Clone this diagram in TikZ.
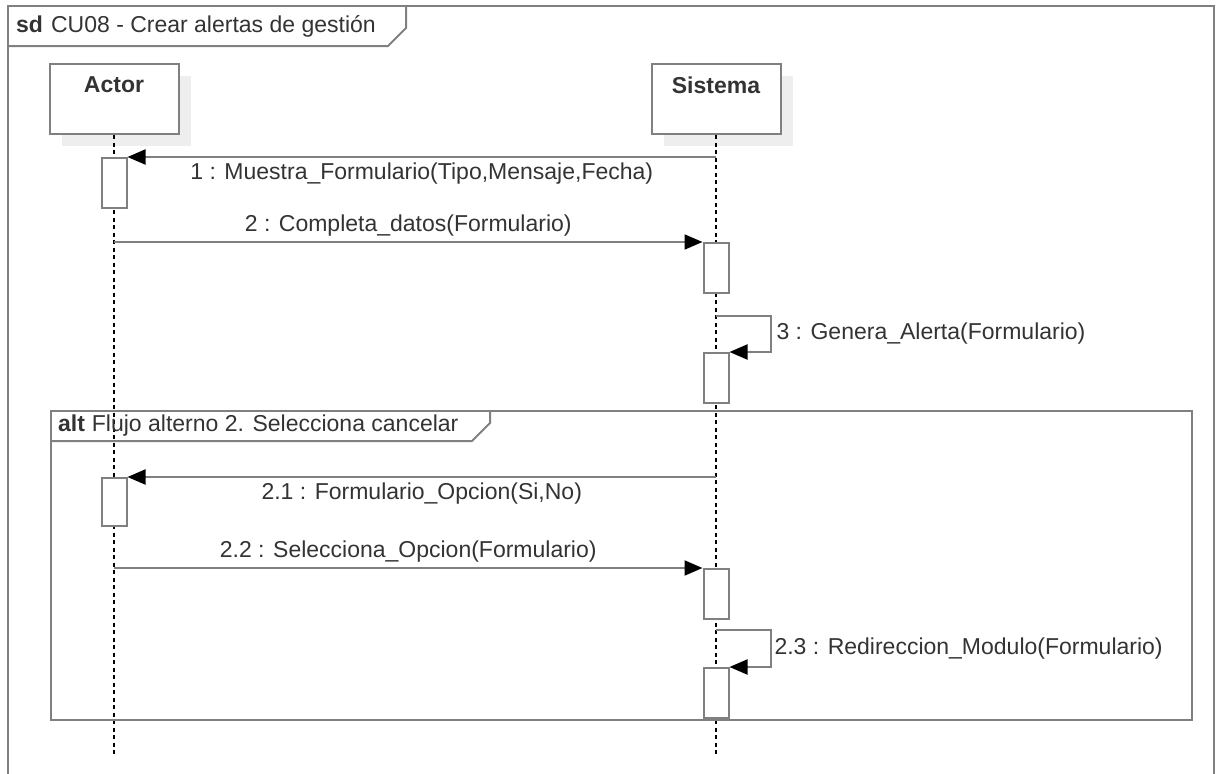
\documentclass[tikz,border=0pt]{standalone}
\usepackage{fontspec}
\setmainfont{Liberation Sans}
\usetikzlibrary{arrows.meta,shadows}

\definecolor{linegray}{HTML}{808080}
\definecolor{txtgray}{HTML}{333333}
\definecolor{shadowgray}{HTML}{EEEEEE}

\tikzset{
  framed/.style={draw=linegray, line width=2pt},
  lifebox/.style={draw=linegray, line width=2pt, fill=white, minimum width=129, minimum height=70, inner sep=0pt,
    general shadow={fill=shadowgray, shadow xshift=12pt, shadow yshift=-12pt}},
  actbar/.style={draw=linegray, line width=2pt, fill=white, minimum width=25, inner sep=0pt},
  lifeline/.style={black, line width=1.3pt, dash pattern=on 4pt off 3.5pt},
  msg/.style={draw=linegray, line width=2pt, -{Triangle[length=18pt,width=15pt,fill=black,color=black]}},
  msgtxt/.style={text=txtgray, inner sep=3pt}
}

\begin{document}
\begin{tikzpicture}[x=1pt,y=1pt,yscale=-1, every node/.style={font=\fontsize{23}{27}\selectfont}]
\useasboundingbox (0,0) rectangle (1216,774);

% outer frame
\draw[framed] (8,774) -- (8,6) -- (1214,6) -- (1214,774);
\draw[framed] (8,46) -- (388,46) -- (406,28) -- (406,6);
\node[anchor=west, text=txtgray, inner sep=0pt] (title) at (16,26) {\textbf{sd}\hspace{0.35em}CU08 - Crear alertas de gestión};

% lifelines
\node[lifebox] (actor) at (114,99) {};
\node[lifebox] (sys) at (716,99) {};
\node[text=txtgray, font=\fontsize{23}{27}\selectfont\bfseries, inner sep=0pt] (actortxt) at (114,85) {Actor};
\node[text=txtgray, font=\fontsize{23}{27}\selectfont\bfseries, inner sep=0pt] (systxt) at (716,85) {Sistema};
\coordinate (lineend) at (0,757);
\draw[lifeline] (actor.south) -- (actor.south |- lineend);
\draw[lifeline] (sys.south) -- (sys.south |- lineend);

% alt fragment
\draw[framed] (51,411) rectangle (1192,720);
\draw[framed] (51,441) -- (472,441) -- (490,423) -- (490,411);
\node[anchor=west, text=txtgray, inner sep=0pt] (alttxt) at (58,426) {\textbf{alt}\hspace{0.3em}Flujo alterno 2. Selecciona cancelar};

% activation bars
\node[actbar, minimum height=50, anchor=north] (act1) at (114,157) {};
\node[actbar, minimum height=50, anchor=north] (act2) at (716,242) {};
\node[actbar, minimum height=50, anchor=north] (act3) at (716,352) {};
\node[actbar, minimum height=48, anchor=north] (act4) at (114,477) {};
\node[actbar, minimum height=50, anchor=north] (act5) at (716,568) {};
\node[actbar, minimum height=50, anchor=north] (act6) at (716,667) {};

% messages
\draw[msg] (act1.north -| sys) -- node[msgtxt, below=2pt] {1 : Muestra\_Formulario(Tipo,Mensaje,Fecha)} (act1.north east);
\draw[msg] (act2.north -| actor) -- node[msgtxt, above=2pt] {2 : Completa\_datos(Formulario)} (act2.north west);
\draw[msg] ([yshift=-36pt]act3.north) -| ([xshift=41pt]act3.north east) node[msgtxt, pos=0.75, right=2pt] {3 : Genera\_Alerta(Formulario)} -- (act3.north east);
\draw[msg] (act4.north -| sys) -- node[msgtxt, below=2pt] {2.1 : Formulario\_Opcion(Si,No)} (act4.north east);
\draw[msg] (act5.north -| actor) -- node[msgtxt, above=2pt] {2.2 : Selecciona\_Opcion(Formulario)} (act5.north west);
\draw[msg] ([yshift=-37pt]act6.north) -| ([xshift=41pt]act6.north east) node[msgtxt, pos=0.75, right=0pt] {2.3 : Redireccion\_Modulo(Formulario)} -- (act6.north east);
\end{tikzpicture}
\end{document}
